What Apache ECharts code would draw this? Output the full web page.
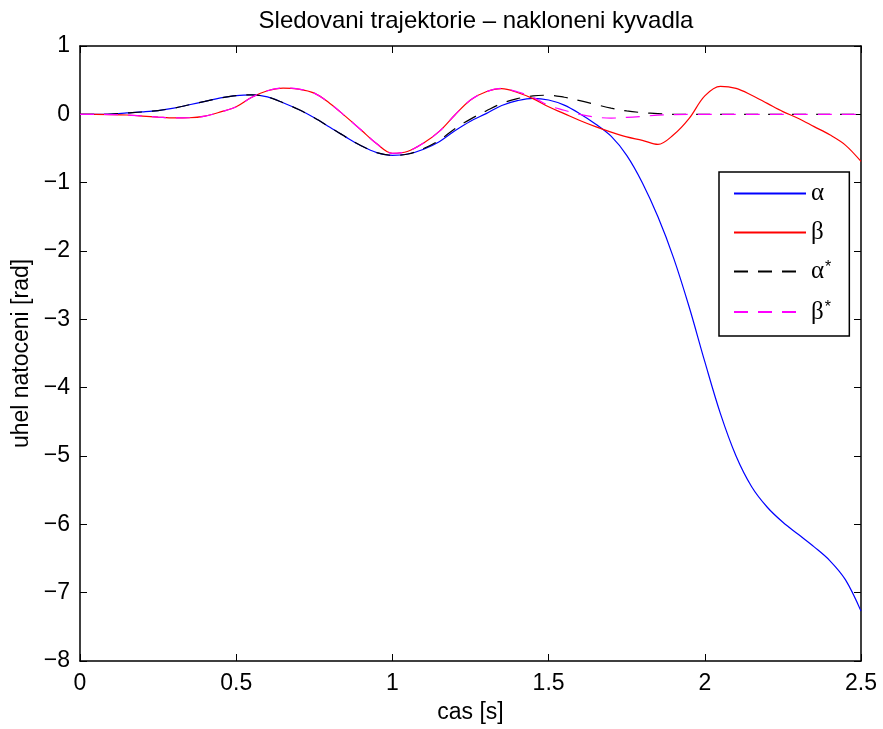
<!DOCTYPE html>
<html>
<head>
<meta charset="utf-8">
<title>Sledovani trajektorie</title>
<script src="https://cdn.jsdelivr.net/npm/echarts@6/dist/echarts.min.js"></script>
<style>
  html, body { margin: 0; padding: 0; background: #fff; }
  #chart { width: 883px; height: 729px; }
</style>
</head>
<body>
<div id="chart"></div>
<script>
// time samples [s]
const time = [
  0, 0.05, 0.1, 0.15, 0.2, 0.25, 0.3, 0.35, 0.4, 0.45,
  0.5, 0.55, 0.6, 0.65, 0.7, 0.75, 0.8, 0.85, 0.9, 0.95,
  1.0, 1.05, 1.1, 1.15, 1.2, 1.25, 1.3, 1.35, 1.4, 1.45,
  1.5, 1.55, 1.6, 1.65, 1.7, 1.75, 1.8, 1.85, 1.9, 1.95,
  2.0, 2.05, 2.1, 2.15, 2.2, 2.25, 2.3, 2.35, 2.4, 2.45, 2.5
];

// measured angle alpha [rad]
const alpha = [
  0, 0, 0.005, 0.02, 0.035, 0.055, 0.09, 0.14, 0.19, 0.24,
  0.275, 0.285, 0.255, 0.17, 0.07, -0.05, -0.19, -0.33, -0.46, -0.56,
  -0.60, -0.58, -0.51, -0.40, -0.24, -0.10, 0.01, 0.13, 0.20, 0.235,
  0.21, 0.135, 0.01, -0.14, -0.32, -0.60, -1.00, -1.50, -2.10, -2.82,
  -3.62, -4.38, -5.00, -5.45, -5.75, -5.97, -6.15, -6.33, -6.53, -6.81, -7.27
];

// measured angle beta [rad]
const beta = [
  0, 0, -0.003, -0.01, -0.025, -0.04, -0.053, -0.05, -0.025, 0.035,
  0.11, 0.25, 0.345, 0.385, 0.37, 0.31, 0.16, -0.03, -0.23, -0.43,
  -0.57, -0.54, -0.42, -0.25, -0.01, 0.21, 0.33, 0.375, 0.32, 0.23,
  0.11, 0.01, -0.09, -0.18, -0.26, -0.33, -0.38, -0.44, -0.30, -0.06,
  0.27, 0.41, 0.38, 0.28, 0.16, 0.04, -0.06, -0.18, -0.30, -0.45, -0.69
];

// reference trajectory alpha* [rad]
const alphaRef = [
  0, 0, 0.005, 0.02, 0.035, 0.055, 0.09, 0.14, 0.19, 0.24,
  0.275, 0.285, 0.255, 0.17, 0.07, -0.05, -0.19, -0.33, -0.46, -0.56,
  -0.60, -0.58, -0.50, -0.38, -0.21, -0.07, 0.05, 0.16, 0.23, 0.27,
  0.28, 0.25, 0.20, 0.145, 0.09, 0.05, 0.025, 0.01, 0, 0,
  0, 0, 0, 0, 0, 0, 0, 0, 0, 0, 0
];

// reference trajectory beta* [rad]
const betaRef = [
  0, 0, -0.003, -0.01, -0.025, -0.04, -0.053, -0.05, -0.025, 0.035,
  0.11, 0.25, 0.345, 0.385, 0.37, 0.31, 0.16, -0.03, -0.23, -0.43,
  -0.57, -0.54, -0.42, -0.25, -0.01, 0.21, 0.33, 0.38, 0.33, 0.25,
  0.13, 0.06, 0.0, -0.04, -0.055, -0.045, -0.03, -0.012, -0.003, 0,
  0, 0, 0, 0, 0, 0, 0, 0, 0, 0, 0
];

const xTickLabels = ['0', '0.5', '1', '1.5', '2', '2.5'];
const yTickLabels = ['−8', '−7', '−6', '−5', '−4', '−3', '−2', '−1', '0', '1'];

const seriesNames = ['α', 'β', 'α*', 'β*'];
const seriesColors = ['#0000ff', '#ff0000', '#000000', '#ff00ff'];

const pairs = (vals) => time.map((t, i) => [t, vals[i]]);

const sans = 'Liberation Sans, Arial, Helvetica, sans-serif';
const serif = 'Liberation Serif, Times New Roman, serif';

const xLabel = (v) => {
  const i = Math.round(v / 0.5);
  return xTickLabels[i] !== undefined ? xTickLabels[i] : '';
};
const yLabel = (v) => {
  const i = Math.round(v + 8);
  return yTickLabels[i] !== undefined ? yTickLabels[i] : '';
};

const axisLine = { show: true, onZero: false, lineStyle: { color: '#000', width: 1.5 } };
const tick = { show: true, inside: true, length: 7, lineStyle: { color: '#000', width: 1 } };

function lineSeries(idx, data, dashed) {
  return {
    name: seriesNames[idx],
    type: 'line',
    xAxisIndex: 0,
    yAxisIndex: 0,
    data: pairs(data),
    smooth: 0.35,
    showSymbol: false,
    symbol: 'none',
    animation: false,
    lineStyle: {
      color: seriesColors[idx],
      width: 1.2,
      type: dashed ? [14, 10] : 'solid'
    },
    itemStyle: { color: seriesColors[idx] }
  };
}

const chart = echarts.init(document.getElementById('chart'), null, { renderer: 'canvas' });
chart.setOption({
  backgroundColor: '#fff',
  animation: false,
  title: {
    text: 'Sledovani trajektorie – nakloneni kyvadla',
    left: 471,
    top: 4,
    textAlign: 'center',
    textStyle: { fontFamily: sans, fontSize: 24, fontWeight: 'normal', color: '#000' }
  },
  grid: { left: 80, right: 22, top: 46, bottom: 68, containLabel: false },
  legend: {
    orient: 'vertical',
    left: 719,
    top: 172,
    padding: [9, 18, 10, 14],
    itemGap: 14,
    itemWidth: 72,
    itemHeight: 14,
    backgroundColor: '#fff',
    borderColor: '#000',
    borderWidth: 1.5,
    borderRadius: 0,
    data: seriesNames,
    itemStyle: { opacity: 0 },
    formatter: (name) => name.endsWith('*')
      ? '{g|' + name.charAt(0) + '}{s|*}'
      : '{g|' + name + '}',
    textStyle: {
      rich: {
        g: { fontFamily: serif, fontSize: 25, color: '#000', lineHeight: 24 },
        s: { fontFamily: sans, fontSize: 16, color: '#000', verticalAlign: 'top', lineHeight: 16, padding: [0, 0, 10, 1] }
      }
    }
  },
  xAxis: [
    {
      type: 'value', min: 0, max: 2.5, interval: 0.5, position: 'bottom',
      name: 'cas [s]', nameLocation: 'middle', nameGap: 40,
      nameTextStyle: { fontFamily: sans, fontSize: 23, color: '#000' },
      axisLine: axisLine, axisTick: tick, splitLine: { show: false },
      axisLabel: { formatter: xLabel, margin: 11, fontFamily: sans, fontSize: 23, color: '#000' }
    },
    {
      type: 'value', min: 0, max: 2.5, interval: 0.5, position: 'top',
      axisLine: axisLine, axisTick: tick, splitLine: { show: false },
      axisLabel: { show: false }
    }
  ],
  yAxis: [
    {
      type: 'value', min: -8, max: 1, interval: 1, position: 'left',
      name: 'uhel natoceni [rad]', nameLocation: 'middle', nameGap: 47,
      nameTextStyle: { fontFamily: sans, fontSize: 23, color: '#000' },
      axisLine: axisLine, axisTick: tick, splitLine: { show: false },
      axisLabel: { formatter: yLabel, margin: 10, fontFamily: sans, fontSize: 23, color: '#000' }
    },
    {
      type: 'value', min: -8, max: 1, interval: 1, position: 'right',
      axisLine: axisLine, axisTick: tick, splitLine: { show: false },
      axisLabel: { show: false }
    }
  ],
  series: [
    lineSeries(0, alpha, false),
    lineSeries(1, beta, false),
    lineSeries(2, alphaRef, true),
    lineSeries(3, betaRef, true)
  ]
});
</script>
</body>
</html>
